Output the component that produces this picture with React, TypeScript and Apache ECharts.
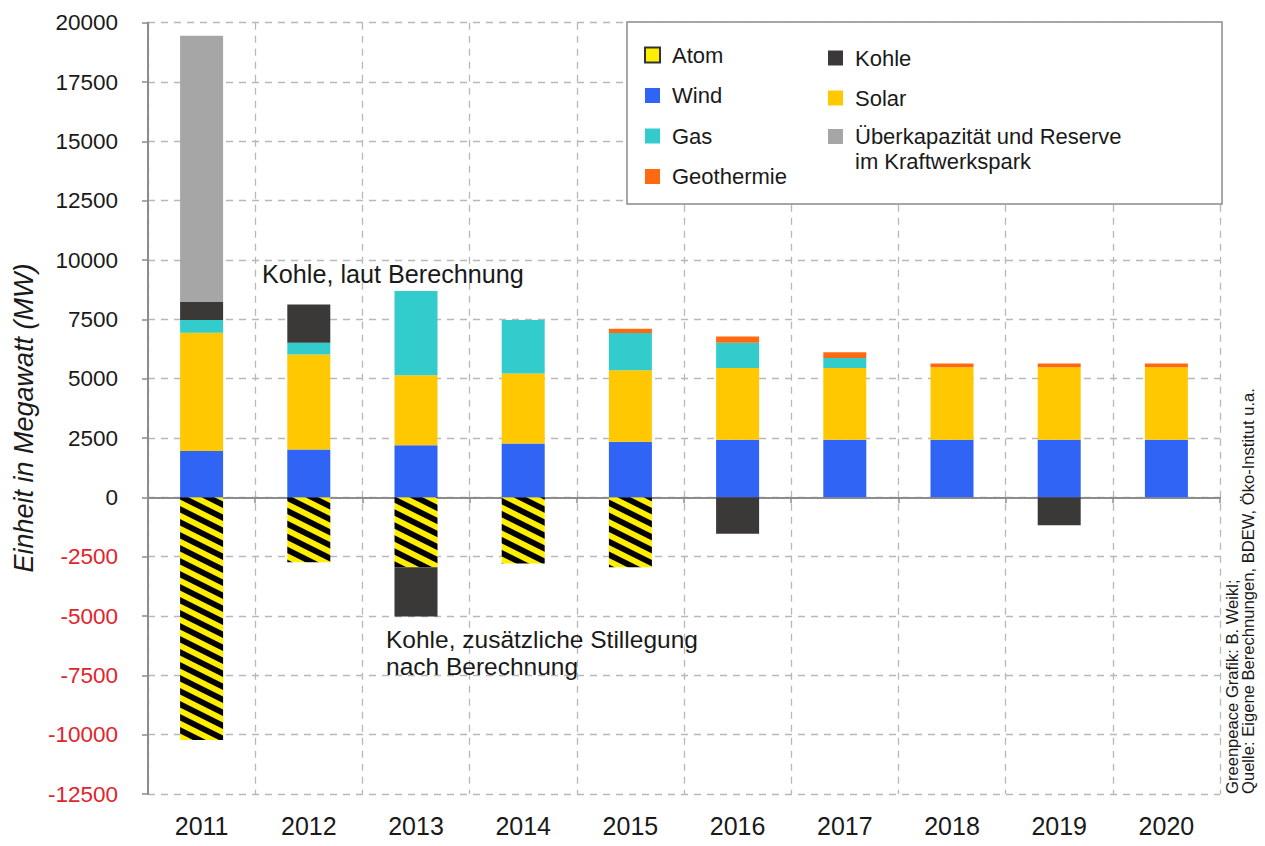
import React, { useEffect, useRef } from 'react';
import * as echarts from 'echarts';

const years = ['2011', '2012', '2013', '2014', '2015', '2016', '2017', '2018', '2019', '2020'];
const atom = [-10220, -2730, -2950, -2790, -2950, 0, 0, 0, 0, 0];
const wind = [1950, 2020, 2200, 2270, 2340, 2430, 2430, 2430, 2430, 2430];
const solar = [4990, 4000, 2940, 2950, 3020, 3020, 3020, 3050, 3050, 3050];
const gas = [530, 490, 3550, 2250, 1570, 1060, 420, 0, 0, 0];
const geothermie = [0, 0, 0, 0, 170, 270, 240, 160, 160, 160];
const kohle = [760, 1620, -2070, 0, 0, -1530, 0, 0, -1180, 0];
const reserve = [11220, 0, 0, 0, 0, 0, 0, 0, 0, 0];
const yMin = -12500;
const yMax = 20000;
const yStep = 2500;

const RESERVE_NAME = 'Überkapazität und Reserve im Kraftwerkspark';
const FONT = '"Liberation Sans", Arial, Helvetica, sans-serif';
const AXIS_GRAY = '#8c8c8c';
const GRID_GRAY = '#b8b8b8';

const TILE_W = 26;
const TILE_H = 13;

function makeStripeTile(): HTMLCanvasElement {
  const c = document.createElement('canvas');
  c.width = TILE_W;
  c.height = TILE_H;
  const ctx = c.getContext('2d')!;
  ctx.fillStyle = '#FFEE00';
  ctx.fillRect(0, 0, TILE_W, TILE_H);
  ctx.fillStyle = '#000000';
  for (let k = -1; k <= 0; k++) {
    ctx.beginPath();
    ctx.moveTo(0, k * TILE_H);
    ctx.lineTo(TILE_W, k * TILE_H + TILE_H);
    ctx.lineTo(TILE_W, k * TILE_H + TILE_H * 1.5);
    ctx.lineTo(0, k * TILE_H + TILE_H * 0.5);
    ctx.closePath();
    ctx.fill();
  }
  return c;
}

export default function App() {
  const ref = useRef<HTMLDivElement>(null);

  useEffect(() => {
    document.body.style.margin = '0';
    if (!ref.current) return;
    const chart = echarts.init(ref.current, undefined, { renderer: 'svg' });
    const tile = makeStripeTile();
    const stripe: any = { image: tile.toDataURL(), repeat: 'repeat', imageWidth: TILE_W, imageHeight: TILE_H };

    const bar = (name: string, data: number[], color: any) => ({
      name,
      type: 'bar',
      stack: 'total',
      data,
      barWidth: 43,
      itemStyle: { color },
      emphasis: { disabled: true },
    });

    const legendText = { fontSize: 22, lineHeight: 22, color: '#1a1a1a', fontFamily: FONT, padding: [0, 0, 0, 7] };
    const noteStyle = { fontSize: 24.5, fontFamily: FONT, fill: '#1a1a1a', align: 'left', verticalAlign: 'middle' };

    chart.setOption({
      animation: false,
      backgroundColor: '#ffffff',
      textStyle: { fontFamily: FONT },
      grid: { left: 148, right: 45, top: 22.7, bottom: 52, containLabel: false },
      xAxis: [
        {
          type: 'category',
          data: years,
          position: 'bottom',
          axisLine: { show: true, onZero: true, lineStyle: { color: AXIS_GRAY, width: 2 } },
          axisTick: { show: true, length: 6, lineStyle: { color: AXIS_GRAY, width: 1.5 } },
          axisLabel: { show: false },
          splitLine: { show: true, lineStyle: { color: GRID_GRAY, width: 1.3, type: [7, 6] } },
        },
        {
          type: 'category',
          data: years,
          position: 'bottom',
          axisLine: { show: false, onZero: false },
          axisTick: { show: false },
          axisLabel: { show: true, fontSize: 25, margin: 19, color: '#1a1a1a', fontFamily: FONT },
          splitLine: { show: false },
        },
      ],
      yAxis: {
        type: 'value',
        min: yMin,
        max: yMax,
        interval: yStep,
        axisLine: { show: true, lineStyle: { color: AXIS_GRAY, width: 2 } },
        axisTick: { show: true, length: 6, lineStyle: { color: AXIS_GRAY, width: 1.5 } },
        axisLabel: {
          fontSize: 22.5,
          margin: 30,
          fontFamily: FONT,
          formatter: (v: number) => String(v),
          color: (v: any) => (Number(v) < 0 ? '#E2242B' : '#1a1a1a'),
        },
        splitLine: { show: true, lineStyle: { color: GRID_GRAY, width: 1.3, type: [7, 6] } },
      },
      legend: [
        {
          orient: 'vertical',
          left: 644,
          top: 44,
          padding: 0,
          z: 10,
          itemWidth: 15,
          itemHeight: 15,
          itemGap: 18.5,
          selectedMode: false,
          icon: 'rect',
          textStyle: legendText,
          data: [
            { name: 'Atom', itemStyle: { color: '#FFEE00', borderColor: '#333333', borderWidth: 2 } },
            'Wind',
            'Gas',
            'Geothermie',
          ],
        },
        {
          orient: 'vertical',
          left: 828,
          top: 47,
          padding: 0,
          z: 10,
          itemWidth: 15,
          itemHeight: 15,
          itemGap: 18,
          selectedMode: false,
          icon: 'rect',
          textStyle: legendText,
          data: ['Kohle', 'Solar'],
        },
        {
          orient: 'vertical',
          left: 828,
          top: 99,
          padding: 0,
          z: 10,
          itemWidth: 15,
          itemHeight: 15,
          selectedMode: false,
          icon: 'rect',
          textStyle: { ...legendText, lineHeight: 25 },
          formatter: () => '\nÜberkapazität und Reserve\nim Kraftwerkspark',
          data: [RESERVE_NAME],
        },
      ],
      graphic: [
        {
          type: 'rect',
          z: 5,
          shape: { x: 627, y: 22, width: 595, height: 182 },
          style: { fill: '#ffffff', stroke: '#8a8a8a', lineWidth: 1.5 },
        },
        {
          type: 'text',
          z: 6,
          x: 262,
          y: 274,
          style: { ...noteStyle, text: 'Kohle, laut Berechnung', fontSize: 25.2 },
        },
        {
          type: 'text',
          z: 6,
          x: 386,
          y: 639,
          style: { ...noteStyle, text: 'Kohle, zusätzliche Stillegung' },
        },
        {
          type: 'text',
          z: 6,
          x: 386,
          y: 666,
          style: { ...noteStyle, text: 'nach Berechnung' },
        },
        {
          type: 'text',
          z: 6,
          x: 24,
          y: 418,
          rotation: Math.PI / 2,
          style: {
            text: 'Einheit in Megawatt (MW)',
            fontSize: 27,
            fontStyle: 'italic',
            fontFamily: FONT,
            fill: '#1a1a1a',
            align: 'center',
            verticalAlign: 'middle',
          },
        },
        {
          type: 'text',
          z: 6,
          x: 1232,
          y: 794,
          rotation: Math.PI / 2,
          style: { text: 'Greenpeace Grafik: B. Weikl;', fontSize: 16.6, fontFamily: FONT, fill: '#1a1a1a', align: 'left', verticalAlign: 'middle' },
        },
        {
          type: 'text',
          z: 6,
          x: 1248,
          y: 794,
          rotation: Math.PI / 2,
          style: {
            text: 'Quelle: Eigene Berechnungen, BDEW, Öko-Institut u.a.',
            fontSize: 16.6,
            fontFamily: FONT,
            fill: '#1a1a1a',
            align: 'left',
            verticalAlign: 'middle',
          },
        },
      ],
      series: [
        bar('Atom', atom, stripe),
        bar('Wind', wind, '#2F64F4'),
        bar('Solar', solar, '#FFC800'),
        bar('Gas', gas, '#33CCCC'),
        bar('Geothermie', geothermie, '#FF6A10'),
        bar('Kohle', kohle, '#3B3838'),
        bar(RESERVE_NAME, reserve, '#A6A6A6'),
      ],
    });

    return () => {
      chart.dispose();
    };
  }, []);

  return (
    <div
      ref={ref}
      style={{ position: 'absolute', left: 0, top: 0, width: 1265, height: 846, background: '#ffffff' }}
    />
  );
}
